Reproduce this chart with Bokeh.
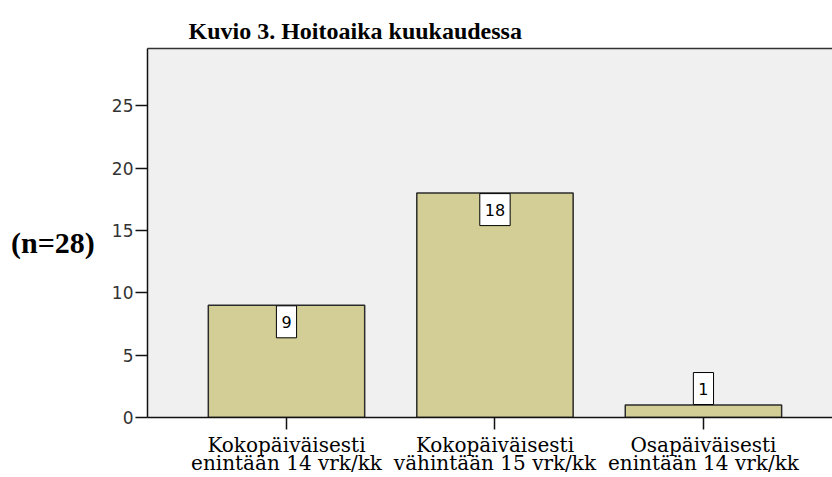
from bokeh.plotting import figure
from bokeh.models import Range1d, FixedTicker, LinearAxis, ColumnDataSource
from bokeh.core.properties import value
from bokeh.embed import file_html
from bokeh.resources import INLINE

# ---- data ----
categories = ["Kokopäiväisesti\nenintään 14 vrk/kk",
              "Kokopäiväisesti\nvähintään 15 vrk/kk",
              "Osapäiväisesti\nenintään 14 vrk/kk"]
counts = [9, 18, 1]
y_ticks = [0, 5, 10, 15, 20, 25]
title_text = "Kuvio 3. Hoitoaika kuukaudessa"
y_label = "(n=28)"

positions = [i + 1 for i in range(len(categories))]

p = figure(width=832, height=477, output_backend="svg", toolbar_location=None,
           x_range=Range1d(0.3333, 3.619), y_range=Range1d(0, 29.6),
           min_border_left=147, min_border_right=0, min_border_top=48, min_border_bottom=59)

p.background_fill_color = "#f0f0f0"
p.border_fill_color = "white"
p.outline_line_color = None
p.xgrid.visible = False
p.ygrid.visible = False

p.title.text = title_text
p.title.text_font = "Liberation Serif"
p.title.text_font_style = "bold"
p.title.text_font_size = "24px"
p.title.align = "left"
p.title.offset = 41
p.title.text_color = "black"

src = ColumnDataSource(dict(x=positions, top=counts))
p.vbar(x="x", top="top", width=0.75, source=src, fill_color="#d3ce96",
       line_color="#2b2b2b", line_width=1.5)

# value labels: inside bar if tall enough, above otherwise
BOX_H = 33
inside = [i for i, c in enumerate(counts) if c > 3]
above = [i for i, c in enumerate(counts) if c <= 3]
src_in = ColumnDataSource(dict(x=[positions[i] for i in inside], y=[counts[i] for i in inside],
                               t=[str(counts[i]) for i in inside]))
src_ab = ColumnDataSource(dict(x=[positions[i] for i in above], y=[counts[i] for i in above],
                               t=[str(counts[i]) for i in above]))
common = dict(text_font=value("DejaVu Sans"), text_font_size="16px", text_color="black",
              text_align="center", text_baseline="middle",
              background_fill_color="white", border_line_color="black",
              border_line_width=1, padding=dict(left=5, right=5, top=10, bottom=10))
p.text(x="x", y="y", text="t", source=src_in, y_offset=BOX_H / 2, **common)
p.text(x="x", y="y", text="t", source=src_ab, y_offset=-BOX_H / 2, **common)

# y axis
ya = p.yaxis[0]
ya.ticker = FixedTicker(ticks=y_ticks)
ya.major_tick_out = 12
ya.major_tick_in = 0
ya.minor_tick_line_color = None
ya.axis_line_width = 1.5
ya.major_tick_line_width = 1.5
ya.axis_line_color = "#111111"
ya.major_tick_line_color = "#111111"
ya.major_label_text_font = "DejaVu Sans"
ya.major_label_text_font_size = "17px"
ya.major_label_text_color = "#333333"
ya.major_label_standoff = 2
ya.axis_label = "\n" + y_label
ya.axis_label_orientation = "horizontal"
ya.axis_label_text_font = "Liberation Serif"
ya.axis_label_text_font_style = "bold"
ya.axis_label_text_font_size = "30px"
ya.axis_label_text_line_height = 0.6
ya.axis_label_text_color = "black"
ya.axis_label_standoff = 14

# x axis
xa = p.xaxis[0]
xa.ticker = FixedTicker(ticks=positions)
xa.major_label_overrides = {pos: cat for pos, cat in zip(positions, categories)}
xa.major_tick_out = 12
xa.major_tick_in = 0
xa.minor_tick_line_color = None
xa.axis_line_width = 1.5
xa.major_tick_line_width = 1.5
xa.axis_line_color = "#111111"
xa.major_tick_line_color = "#111111"
xa.major_label_text_font = "DejaVu Serif"
xa.major_label_text_font_size = "20px"
xa.major_label_text_line_height = 0.75
xa.major_label_text_color = "black"
xa.major_label_standoff = 3

# top border
top_ax = LinearAxis(ticker=FixedTicker(ticks=[]), major_tick_line_color=None,
                    minor_tick_line_color=None, major_label_text_font_size="0px",
                    axis_line_color="#333333", axis_line_width=1.5)
p.add_layout(top_ax, "above")

open("out.html", "w").write(file_html(p, INLINE))
